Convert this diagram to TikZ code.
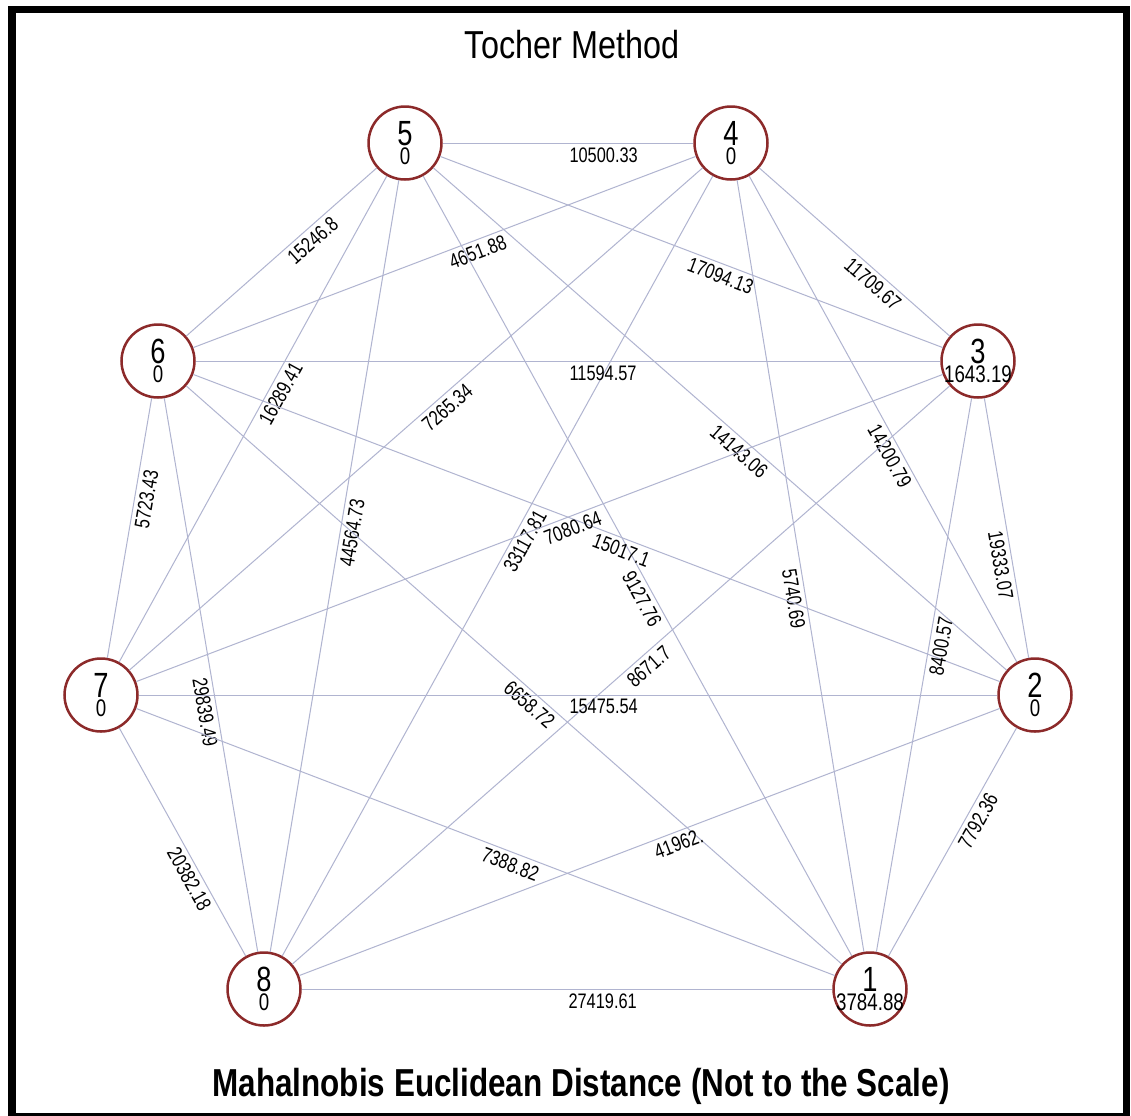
\documentclass[tikz,border=0pt]{standalone}
\usepackage{fontspec}
\setmainfont{Liberation Sans}
\newfontfamily\narrowfont[FakeStretch=0.78]{Liberation Sans}
\newfontfamily\headfamily[FakeStretch=0.83]{Liberation Sans}
\newfontfamily\narrowbold[FakeStretch=0.806]{Liberation Sans Bold}

\newcommand\edgefont{\narrowfont\fontsize{10.5}{12}\selectfont}
\newcommand\valfont{\narrowfont\fontsize{12}{14}\selectfont}
\newcommand\vnumfont{\narrowfont\fontsize{17.5}{20}\selectfont}
\newcommand\headfont{\headfamily\fontsize{19.5}{22}\selectfont}
\newcommand\footfont{\narrowbold\fontsize{19.5}{22}\selectfont}

\definecolor{vred}{RGB}{140,42,42}
\definecolor{edgec}{RGB}{176,180,208}

\tikzset{
  vtx/.style={circle, draw=vred, line width=1.25pt, minimum size=36.5pt,
              inner sep=0pt, fill=white},
  link/.style={draw=edgec, line width=0.5pt},
  wlabel/.style={sloped, pos=0.5, anchor=north west, inner xsep=0.5pt,
                 inner ysep=2pt, font=\edgefont, text=black},
  bignum/.style={anchor=base, inner sep=0pt, font=\vnumfont},
  smallnum/.style={anchor=base, inner sep=0pt, font=\valfont},
}

% cluster circle: name, x, y (pixels, y downwards)
\newcommand\placevertex[3]{%
  \node[vtx] (#1) at (#2,#3) {};
}
% cluster number and its intra-cluster distance
\newcommand\vertextext[3]{%
  \node[bignum] (#1num) at ([yshift=-1pt]#1.center) {#2};
  \node[smallnum] (#1val) at ([yshift=-10.5pt]#1.center) {#3};
}

\begin{document}
\begin{tikzpicture}[x=0.5pt, y=-0.5pt]
  \useasboundingbox (0,0) rectangle (1131,1115);
  \fill[white] (0,0) rectangle (1131,1115);

  % outer frame
  \draw[line width=3.8pt] (12,9.5) rectangle (1126.5,1116.5);

  % title and caption
  \node[font=\headfont, anchor=base, inner sep=0pt] (title) at (572,58) {Tocher Method};
  \node[font=\footfont, anchor=base, inner sep=0pt] (caption) at (581,1096)
       {Mahalnobis Euclidean Distance (Not to the Scale)};

  % clusters
  \placevertex{n5}{405}{143}
  \placevertex{n4}{731}{143}
  \placevertex{n3}{978}{361}
  \placevertex{n6}{158}{361}
  \placevertex{n7}{101}{695}
  \placevertex{n2}{1035}{695}
  \placevertex{n8}{264}{989}
  \placevertex{n1}{870}{989}

  % inter-cluster distances
  \draw[link] (n5) -- node[wlabel]{10500.33} (n4);
  \draw[link] (n6) -- node[wlabel]{15246.8} (n5);
  \draw[link] (n5) -- node[wlabel]{17094.13} (n3);
  \draw[link] (n7) -- node[wlabel]{16289.41} (n5);
  \draw[link] (n8) -- node[wlabel]{44564.73} (n5);
  \draw[link] (n5) -- node[wlabel]{9127.76} (n1);
  \draw[link] (n5) -- node[wlabel]{14143.06} (n2);
  \draw[link] (n6) -- node[wlabel]{4651.88} (n4);
  \draw[link] (n4) -- node[wlabel]{11709.67} (n3);
  \draw[link] (n7) -- node[wlabel]{7265.34} (n4);
  \draw[link] (n8) -- node[wlabel]{33117.81} (n4);
  \draw[link] (n4) -- node[wlabel]{5740.69} (n1);
  \draw[link] (n4) -- node[wlabel]{14200.79} (n2);
  \draw[link] (n6) -- node[wlabel]{11594.57} (n3);
  \draw[link] (n7) -- node[wlabel]{5723.43} (n6);
  \draw[link] (n6) -- node[wlabel]{29839.49} (n8);
  \draw[link] (n6) -- node[wlabel]{6658.72} (n1);
  \draw[link] (n6) -- node[wlabel]{15017.1} (n2);
  \draw[link] (n7) -- node[wlabel]{7080.64} (n3);
  \draw[link] (n8) -- node[wlabel]{8671.7} (n3);
  \draw[link] (n1) -- node[wlabel]{8400.57} (n3);
  \draw[link] (n3) -- node[wlabel]{19333.07} (n2);
  \draw[link] (n7) -- node[wlabel]{20382.18} (n8);
  \draw[link] (n7) -- node[wlabel]{7388.82} (n1);
  \draw[link] (n7) -- node[wlabel]{15475.54} (n2);
  \draw[link] (n8) -- node[wlabel]{27419.61} (n1);
  \draw[link] (n8) -- node[wlabel]{41962.} (n2);
  \draw[link] (n2) -- node[wlabel]{7792.36} (n1);

  % cluster numbers and intra-cluster distances
  \vertextext{n5}{5}{0}
  \vertextext{n4}{4}{0}
  \vertextext{n3}{3}{1643.19}
  \vertextext{n6}{6}{0}
  \vertextext{n7}{7}{0}
  \vertextext{n2}{2}{0}
  \vertextext{n8}{8}{0}
  \vertextext{n1}{1}{3784.88}
\end{tikzpicture}
\end{document}
